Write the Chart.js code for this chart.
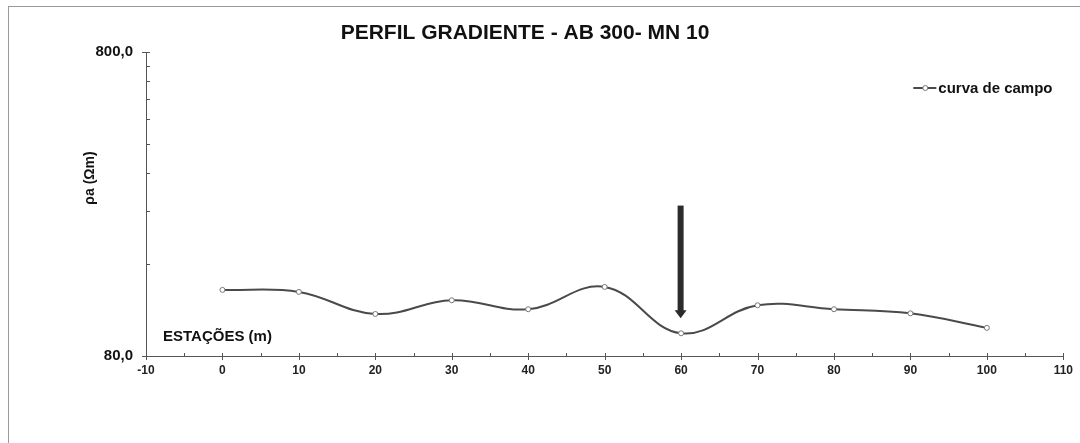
<!DOCTYPE html>
<html>
<head>
<meta charset="utf-8">
<script src="https://cdn.jsdelivr.net/npm/chart.js@4/dist/chart.umd.min.js"></script>
<style>
  html, body { margin: 0; padding: 0; background: #fff; }
  #wrap { position: relative; width: 1080px; height: 443px; overflow: hidden; }
  #frame { position: absolute; left: 8px; top: 6px; width: 1100px; height: 500px;
           border-left: 1px solid #9a9a9a; border-top: 1px solid #9a9a9a; }
  canvas { position: absolute; left: 0; top: 0; }
</style>
</head>
<body>
<div id="wrap">
  <div id="frame"></div>
  <canvas id="chart" width="1080" height="443"></canvas>
</div>
<script>
// data
const stations = [0, 10, 20, 30, 40, 50, 60, 70, 80, 90, 100];
const rhoA = [132, 130, 110, 122, 114, 135, 95, 117.5, 114, 110.5, 99];
const seriesName = 'curva de campo';

const chartTitle = 'PERFIL GRADIENTE - AB 300- MN 10';
const yTitle = 'ρa (Ωm)';
const xTitle = 'ESTAÇÕES (m)';

const xMajorTicks = [-10, 0, 10, 20, 30, 40, 50, 60, 70, 80, 90, 100, 110];
const xMinorTicks = [-5, 5, 15, 25, 35, 45, 55, 65, 75, 85, 95, 105];
const yTicks = [80, 160, 240, 320, 400, 480, 560, 640, 720, 800];
const yLabelled = [80, 800];

// arrow pointing at the anomaly (station, from value, to value)
const arrowX = 60;
const arrowFrom = 250;
const arrowTo = 106.5;

const FONT = "'Liberation Sans', Arial, sans-serif";

// extra drawing: tick marks, arrow, titles, legend
const decor = {
  id: 'decor',
  afterDraw(chart) {
    const ctx = chart.ctx;
    const ca = chart.chartArea;
    const xs = chart.scales.x, ys = chart.scales.y;
    ctx.save();

    // tick marks
    ctx.strokeStyle = '#555';
    ctx.lineWidth = 1;
    ctx.beginPath();
    yTicks.forEach(v => {
      const py = Math.round(ys.getPixelForValue(v)) + 0.5;
      const major = yLabelled.includes(v);
      ctx.moveTo(ca.left - (major ? 4 : 0), py);
      ctx.lineTo(ca.left + 4, py);
    });
    xMajorTicks.forEach(v => {
      const px = Math.round(xs.getPixelForValue(v)) + 0.5;
      ctx.moveTo(px, ca.bottom - 3);
      ctx.lineTo(px, ca.bottom + 4);
    });
    xMinorTicks.forEach(v => {
      const px = Math.round(xs.getPixelForValue(v)) + 0.5;
      ctx.moveTo(px, ca.bottom - 3);
      ctx.lineTo(px, ca.bottom);
    });
    ctx.stroke();

    // arrow
    const ax = xs.getPixelForValue(arrowX) - 0.5;
    const aTop = ys.getPixelForValue(arrowFrom);
    const aTip = ys.getPixelForValue(arrowTo);
    ctx.fillStyle = '#2b2b2b';
    ctx.fillRect(ax - 3, aTop, 6, aTip - aTop - 7);
    ctx.beginPath();
    ctx.moveTo(ax - 6, aTip - 8);
    ctx.lineTo(ax + 6, aTip - 8);
    ctx.lineTo(ax, aTip);
    ctx.closePath();
    ctx.fill();

    // chart title
    ctx.fillStyle = '#111';
    ctx.textBaseline = 'middle';
    ctx.textAlign = 'center';
    ctx.font = 'bold 21px ' + FONT;
    ctx.fillText(chartTitle, 525, 33);

    // y axis title
    ctx.save();
    ctx.translate(90, 178);
    ctx.rotate(-Math.PI / 2);
    ctx.font = 'bold 14px ' + FONT;
    ctx.fillText(yTitle, 0, 0);
    ctx.restore();

    // x axis title, inside the plot area
    ctx.textAlign = 'left';
    ctx.font = 'bold 15px ' + FONT;
    ctx.fillText(xTitle, ca.left + 17, ca.bottom - 19);

    // legend
    const ly = ca.top + 36;
    const lx = ca.right - 150;
    ctx.strokeStyle = '#4a4a4a';
    ctx.lineWidth = 2;
    ctx.beginPath();
    ctx.moveTo(lx, ly);
    ctx.lineTo(lx + 23, ly);
    ctx.stroke();
    ctx.beginPath();
    ctx.arc(lx + 12, ly, 2.5, 0, Math.PI * 2);
    ctx.fillStyle = '#fff';
    ctx.fill();
    ctx.lineWidth = 1;
    ctx.strokeStyle = '#777';
    ctx.stroke();
    ctx.fillStyle = '#111';
    ctx.font = 'bold 15px ' + FONT;
    ctx.fillText(seriesName, lx + 25, ly + 1);

    ctx.restore();
  }
};

const ctx = document.getElementById('chart').getContext('2d');
const chart = new Chart(ctx, {
  type: 'line',
  data: {
    datasets: [{
      label: seriesName,
      data: stations.map((s, i) => ({ x: s, y: rhoA[i] })),
      borderColor: '#4a4a4a',
      borderWidth: 2,
      tension: 0.4,
      pointRadius: 2.5,
      pointBackgroundColor: '#fff',
      pointBorderColor: '#777',
      pointBorderWidth: 1
    }]
  },
  options: {
    responsive: false,
    animation: false,
    layout: {
      padding: { top: 52, right: 15, left: 0, bottom: 0 }
    },
    plugins: {
      legend: { display: false },
      title: { display: false },
      tooltip: { enabled: false }
    },
    scales: {
      x: {
        type: 'linear',
        min: -10,
        max: 110,
        afterFit: function(scale) { scale.height = 87; },
        grid: { display: false, drawTicks: false },
        border: { display: true, color: '#555', width: 1 },
        ticks: {
          stepSize: 10,
          autoSkip: false,
          maxRotation: 0,
          padding: 7,
          color: '#222',
          font: { family: FONT, size: 12, weight: 'bold' }
        }
      },
      y: {
        type: 'logarithmic',
        min: 80,
        max: 800,
        afterFit: function(scale) { scale.width = 146; },
        afterBuildTicks: function(scale) {
          scale.ticks = yTicks.map(v => ({ value: v }));
        },
        grid: { display: false, drawTicks: false },
        border: { display: true, color: '#555', width: 1 },
        ticks: {
          autoSkip: false,
          padding: 13,
          color: '#111',
          font: { family: FONT, size: 15, weight: 'bold' },
          callback: function(value) {
            return yLabelled.includes(value) ? value.toFixed(1).replace('.', ',') : '';
          }
        }
      }
    }
  },
  plugins: [decor]
});
</script>
</body>
</html>
